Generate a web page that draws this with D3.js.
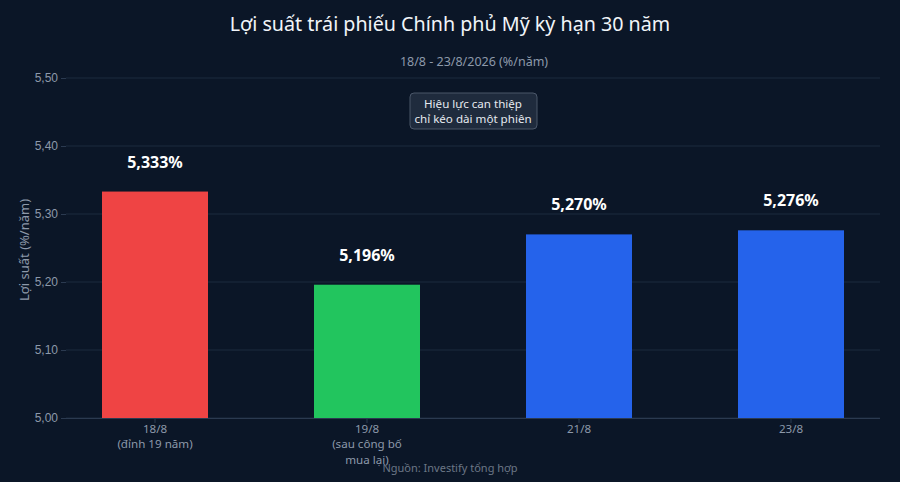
<!DOCTYPE html>
<html>
<head>
<meta charset="utf-8">
<script src="https://cdn.jsdelivr.net/npm/d3@7"></script>
<style>
  body { margin: 0; background: #0b1627; }
  svg { display: block; font-family: "Noto Sans", sans-serif; }
</style>
</head>
<body>
<script>
// data
const days = ["18/8", "19/8", "21/8", "23/8"];
const dayNotes = [["18/8", "(đỉnh 19 năm)"], ["19/8", "(sau công bố", "mua lại)"], ["21/8"], ["23/8"]];
const yields = [5.333, 5.196, 5.270, 5.276];
const barColors = ["#ef4444", "#22c55e", "#2563eb", "#2563eb"];
const yTicks = [5.0, 5.1, 5.2, 5.3, 5.4, 5.5];
const noteLines = ["Hiệu lực can thiệp", "chỉ kéo dài một phiên"];

const width = 900, height = 482;
const plotLeft = 66, plotRight = 880, plotTop = 78, plotBottom = 418;

const svg = d3.select("body").append("svg")
  .attr("width", width)
  .attr("height", height)
  .style("background", "#0b1627");

const x = d3.scaleBand().domain(days).range([49, 897]).padding(0.5).paddingOuter(0.25);
const y = d3.scaleLinear().domain([5.0, 5.5]).range([plotBottom, plotTop]);

const fmt = v => v.toFixed(2).replace(".", ",");

// grid
svg.append("g")
  .selectAll("line")
  .data(yTicks)
  .enter()
  .append("line")
  .attr("x1", plotLeft)
  .attr("x2", plotRight)
  .attr("y1", d => y(d))
  .attr("y2", d => y(d))
  .attr("stroke", "#1c2a3e")
  .attr("stroke-width", 1);

// y axis
const yAxis = svg.append("g")
  .attr("transform", `translate(${plotLeft},0)`)
  .call(d3.axisLeft(y).tickValues(yTicks).tickFormat(fmt).tickSize(5).tickPadding(3));
yAxis.select(".domain").remove();
yAxis.selectAll("line").attr("stroke", "#2b3a50");
yAxis.selectAll("text").attr("fill", "#8d99aa").style("font-size", "12px");

// bars
svg.selectAll("rect.bar")
  .data(yields)
  .enter()
  .append("rect")
  .attr("class", "bar")
  .attr("x", (d, i) => x(days[i]))
  .attr("y", d => y(d))
  .attr("width", x.bandwidth())
  .attr("height", d => plotBottom - y(d))
  .attr("fill", (d, i) => barColors[i]);

// value labels
svg.selectAll("text.val")
  .data(yields)
  .enter()
  .append("text")
  .attr("class", "val")
  .attr("x", (d, i) => x(days[i]) + x.bandwidth() / 2)
  .attr("y", d => y(d) - 24)
  .attr("text-anchor", "middle")
  .attr("fill", "#ffffff")
  .style("font-size", "16px")
  .style("font-weight", "bold")
  .text(d => d.toFixed(3).replace(".", ",") + "%");

// x axis
svg.append("line")
  .attr("x1", plotLeft).attr("x2", plotRight)
  .attr("y1", plotBottom + 0.5).attr("y2", plotBottom + 0.5)
  .attr("stroke", "#2b3a50");

const xt = svg.append("g").selectAll("g")
  .data(days)
  .enter()
  .append("g")
  .attr("transform", d => `translate(${x(d) + x.bandwidth() / 2},${plotBottom})`);
xt.append("line").attr("y1", 0).attr("y2", 5).attr("stroke", "#2b3a50");
xt.each(function(d, i) {
  const g = d3.select(this);
  dayNotes[i].forEach((line, j) => {
    g.append("text")
      .attr("x", 0)
      .attr("y", 14.5 + j * 15.8)
      .attr("text-anchor", "middle")
      .attr("fill", "#8d99aa")
      .style("font-size", "11.6px")
      .text(line);
  });
});

// titles
svg.append("text")
  .attr("x", 450).attr("y", 31)
  .attr("text-anchor", "middle")
  .attr("fill", "#f1f5f9")
  .style("font-size", "19.7px")
  .text("Lợi suất trái phiếu Chính phủ Mỹ kỳ hạn 30 năm");

svg.append("text")
  .attr("x", 474).attr("y", 66)
  .attr("text-anchor", "middle")
  .attr("fill", "#8d99aa")
  .style("font-size", "12.5px")
  .text("18/8 - 23/8/2026 (%/năm)");

// y label
svg.append("text")
  .attr("transform", "translate(29,250) rotate(-90)")
  .attr("text-anchor", "middle")
  .attr("fill", "#8d99aa")
  .style("font-size", "13px")
  .text("Lợi suất (%/năm)");

// annotation
const ann = svg.append("g").attr("transform", "translate(473,111)");
ann.append("rect")
  .attr("x", -63).attr("y", -18)
  .attr("width", 127).attr("height", 36)
  .attr("rx", 4)
  .attr("fill", "#1f2b3d")
  .attr("stroke", "#4a5669");
ann.selectAll("text")
  .data(noteLines)
  .enter()
  .append("text")
  .attr("x", 0)
  .attr("y", (d, i) => -3.5 + i * 15.8)
  .attr("text-anchor", "middle")
  .attr("fill", "#e5e9ef")
  .style("font-size", "11.6px")
  .text(d => d);

// source
svg.append("text")
  .attr("x", 450).attr("y", 472)
  .attr("text-anchor", "middle")
  .attr("fill", "#6b7686")
  .style("font-size", "11px")
  .text("Nguồn: Investify tổng hợp");
</script>
</body>
</html>
